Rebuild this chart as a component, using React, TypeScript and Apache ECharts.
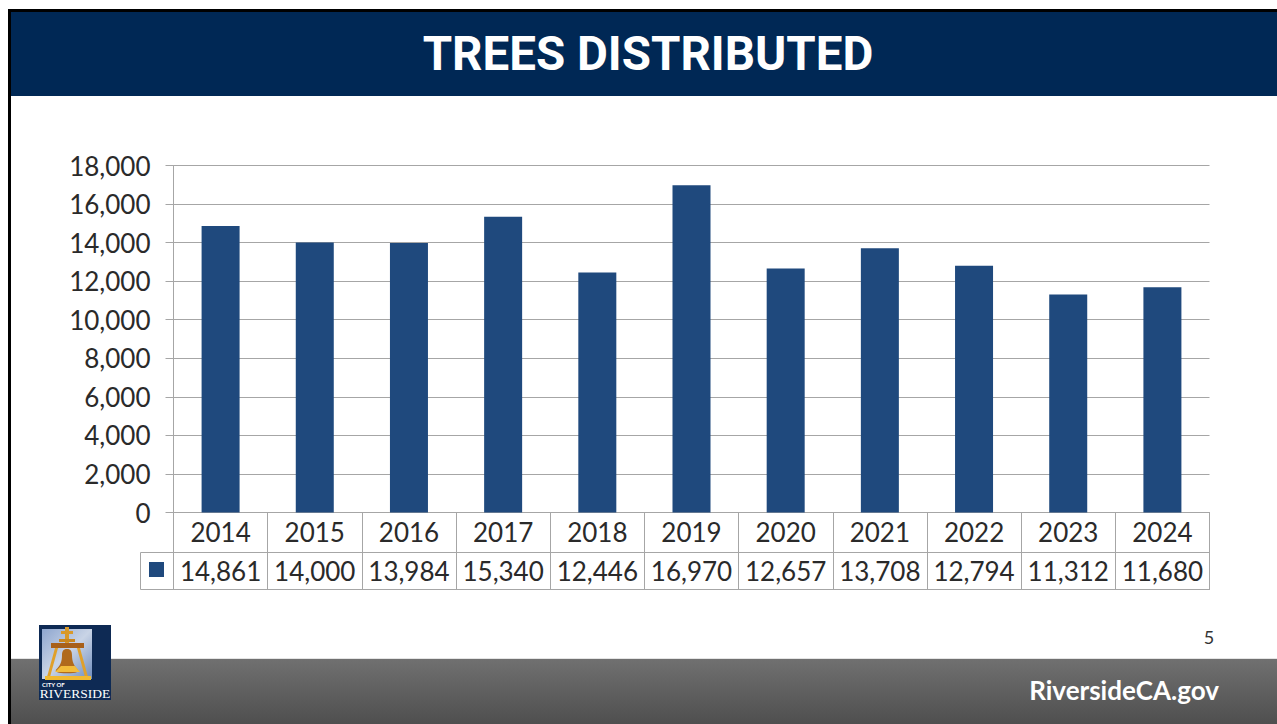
import React, { useEffect, useRef } from "react";
import * as echarts from "echarts";

const years = ["2014", "2015", "2016", "2017", "2018", "2019", "2020", "2021", "2022", "2023", "2024"];
const trees = [14861, 14000, 13984, 15340, 12446, 16970, 12657, 13708, 12794, 11312, 11680];
const titleText = "TREES DISTRIBUTED";
const siteText = "RiversideCA.gov";
const pageNumber = "5";

const FONT = "Lato, 'Open Sans', sans-serif";
const HEAD_FONT = "Roboto, Lato, sans-serif";
const GRID_LINE = "#a6a6a6";
const INK = "#2a2a2a";
const fmt = (v: number) => v.toLocaleString("en-US");

const bellPath =
  "M10 0 C14 0 15 3 15 7 C15 14 17 19 21 23 C22 25 20 27 10 27 C0 27 -2 25 -1 23 C3 19 5 14 5 7 C5 3 6 0 10 0 Z";
echarts.graphic.registerShape("bell", echarts.graphic.extendPath(bellPath, {}) as any);

const hline = (x1: number, y1: number, x2: number, y2: number, stroke: string, lineWidth = 1) => ({
  type: "line", shape: { x1, y1, x2, y2 }, style: { stroke, lineWidth }, silent: true,
});

const vGrad = (a: string, b: string) => new echarts.graphic.LinearGradient(0, 0, 0, 1, [
  { offset: 0, color: a }, { offset: 1, color: b },
]);

export default function App() {
  const ref = useRef<HTMLDivElement>(null);
  useEffect(() => {
    if (!ref.current) return;
    const chart = echarts.init(ref.current, undefined, { renderer: "svg" });
    const tableAxis = (labels: string[], offset: number, showLabel: boolean, margin: number) => ({
      type: "category" as const,
      position: "bottom" as const,
      offset,
      data: labels,
      axisLine: { show: true, lineStyle: { color: GRID_LINE, width: 1 } },
      axisTick: { show: false },
      axisLabel: { show: showLabel, interval: 0, color: INK, fontFamily: FONT, fontSize: 26, margin },
    });
    chart.setOption({
      animation: false,
      backgroundColor: "#ffffff",
      grid: { left: 173.5, right: 67.5, top: 165.5, bottom: 211.5, containLabel: false },
      legend: {
        show: true, left: 149, top: 562, itemWidth: 15, itemHeight: 15, padding: 0,
        icon: "rect", formatter: () => "", selectedMode: false, data: ["Trees Distributed"],
      },
      xAxis: [
        {
          type: "category", data: years,
          axisLine: { show: true, lineStyle: { color: GRID_LINE } },
          axisTick: { show: true, length: 77, alignWithLabel: false, lineStyle: { color: GRID_LINE } },
          axisLabel: { interval: 0, color: INK, fontFamily: FONT, fontSize: 26, margin: 6 },
        },
        tableAxis(trees.map(fmt), 40, true, 5),
        tableAxis(years.map(() => ""), 77, false, 0),
      ],
      yAxis: {
        type: "value", min: 0, max: 18000, interval: 2000,
        axisLine: { show: true, lineStyle: { color: GRID_LINE } },
        axisTick: { show: true, length: 8, lineStyle: { color: GRID_LINE } },
        axisLabel: {
          color: INK, fontFamily: FONT, fontSize: 26, margin: 23, padding: [0, 0, 2, 0],
          formatter: (v: number) => fmt(v),
        },
        splitLine: { show: true, lineStyle: { color: GRID_LINE, width: 1 } },
      },
      series: [{
        name: "Trees Distributed", type: "bar", data: trees, xAxisIndex: 0,
        barWidth: 38, itemStyle: { color: "#1f497d" },
      }],
      graphic: [
        { type: "rect", z: -10, shape: { x: 8, y: 9, width: 1269, height: 715 }, style: { fill: "#000000" }, silent: true },
        { type: "rect", z: -9, shape: { x: 11, y: 12, width: 1266, height: 712 }, style: { fill: "#ffffff" }, silent: true },
        { type: "rect", z: -8, shape: { x: 11, y: 12, width: 1266, height: 84 }, style: { fill: "#002855" }, silent: true },
        { type: "text", z: 5, x: 648, y: 54, style: {
          text: titleText, fill: "#ffffff", font: `bold 47.5px ${HEAD_FONT}`, textAlign: "center", textVerticalAlign: "middle",
        } },
        { type: "rect", z: -8, shape: { x: 11, y: 659, width: 1266, height: 65 }, style: { fill: vGrad("#707070", "#4f4f4f") }, silent: true },
        hline(11, 658.5, 1277, 658.5, "#e4e4e4"),
        { type: "text", z: 5, x: 1219, y: 690, style: {
          text: siteText, fill: "#ffffff", font: `bold 26px ${FONT}`, textAlign: "right", textVerticalAlign: "middle",
        } },
        { type: "text", z: 5, x: 1209, y: 637, style: {
          text: pageNumber, fill: "#333333", font: `18px ${FONT}`, textAlign: "center", textVerticalAlign: "middle",
        } },
        // legend-key cell of the data table
        hline(140.5, 552.5, 173.5, 552.5, GRID_LINE),
        hline(140.5, 589.5, 173.5, 589.5, GRID_LINE),
        hline(140.5, 552.5, 140.5, 589.5, GRID_LINE),
        hline(1209.5, 512.5, 1209.5, 589.5, GRID_LINE),
        // city seal
        { type: "group", z: 6, children: [
          { type: "rect", shape: { x: 39, y: 625, width: 72, height: 75 }, style: { fill: "#0e2a54" } },
          { type: "rect", shape: { x: 42, y: 629, width: 50, height: 50 }, style: { fill: new echarts.graphic.LinearGradient(0, 0, 1, 1, [
            { offset: 0, color: "#8ea6cf" }, { offset: 0.5, color: "#c9d4e6" }, { offset: 1, color: "#6f8dbd" },
          ]) } },
          { type: "rect", shape: { x: 65, y: 627, width: 4, height: 20 }, style: { fill: "#d9992a" } },
          { type: "rect", shape: { x: 61, y: 631, width: 12, height: 3 }, style: { fill: "#d9992a" } },
          { type: "rect", shape: { x: 59, y: 639, width: 16, height: 3 }, style: { fill: "#c9861f" } },
          { type: "rect", shape: { x: 51, y: 643, width: 33, height: 5 }, style: { fill: "#a8601a" } },
          { type: "polygon", shape: { points: [[55, 648], [58, 648], [50, 677], [47, 677]] }, style: { fill: "#e0a02a" } },
          { type: "polygon", shape: { points: [[77, 648], [80, 648], [88, 677], [85, 677]] }, style: { fill: "#e0a02a" } },
          { type: "rect", shape: { x: 45, y: 676, width: 46, height: 4 }, style: { fill: "#f0b92f" } },
          { type: "bell", x: 57, y: 649, scaleX: 1, scaleY: 0.9, style: { fill: "#b06a1c" } },
          { type: "polygon", shape: { points: [[55, 672], [61, 666], [75, 666], [80, 672]] }, style: { fill: "#f2bc3a" } },
          { type: "text", x: 42, y: 684, style: { text: "CITY OF", fill: "#ffffff", font: `bold 6px ${FONT}`, textVerticalAlign: "middle" } },
          { type: "text", x: 75, y: 693, style: { text: "RIVERSIDE", fill: "#ffffff", font: "13.5px 'Liberation Serif', serif", textAlign: "center", textVerticalAlign: "middle" } },
        ] },
      ],
    });
    return () => chart.dispose();
  }, []);
  return <div ref={ref} style={{ position: "fixed", left: 0, top: 0, width: 1277, height: 724 }} />;
}
